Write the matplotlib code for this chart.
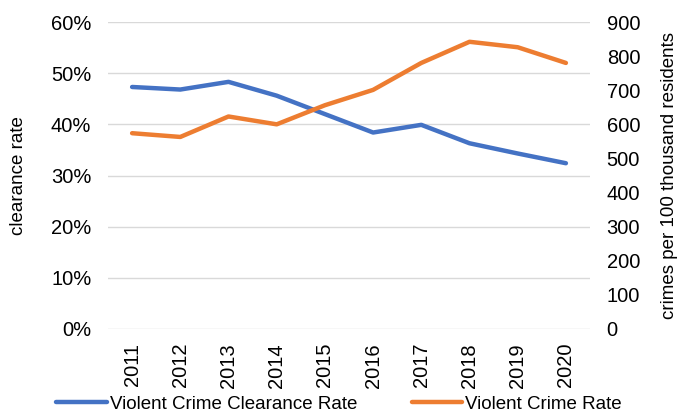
import matplotlib.pyplot as plt
from matplotlib.ticker import PercentFormatter

plt.rcParams['font.family'] = ['Liberation Sans', 'DejaVu Sans']

years = ['2011', '2012', '2013', '2014', '2015', '2016', '2017', '2018', '2019', '2020']
clearance = [47.3, 46.8, 48.3, 45.6, 42.0, 38.4, 39.9, 36.3, 34.3, 32.4]
crime_rate = [574, 563, 623, 600, 656, 701, 780, 842, 826, 780]

blue = '#4472C4'
orange = '#ED7D31'

fig = plt.figure(figsize=(6.78, 4.17), dpi=100)
ax = fig.add_axes([108 / 678, 1 - 329 / 417, 482 / 678, 307 / 417])
ax2 = ax.twinx()

x = range(len(years))
l1, = ax.plot(x, clearance, color=blue, lw=3.2, solid_capstyle='round', label='Violent Crime Clearance Rate')
l2, = ax2.plot(x, crime_rate, color=orange, lw=3.2, solid_capstyle='round', label='Violent Crime Rate')

ax.set_xlim(-0.5, len(years) - 0.5)
ax.set_ylim(0, 60)
ax2.set_ylim(0, 900)
ax.set_yticks(range(0, 61, 10))
ax2.set_yticks(range(0, 901, 100))
ax.yaxis.set_major_formatter(PercentFormatter(decimals=0))
ax.set_xticks(list(x))
ax.set_xticklabels(years, rotation=90)

ax.grid(axis='y', color='#d9d9d9', lw=1)
ax.set_axisbelow(True)
for a in (ax, ax2):
    for s in a.spines.values():
        s.set_visible(False)
    a.tick_params(length=0, labelsize=14.5, colors='#000000')
ax.tick_params(axis='y', pad=12)
ax2.tick_params(axis='y', pad=12)
ax.tick_params(axis='x', pad=10)

ax.set_ylabel('clearance rate', fontsize=13.5)
ax.yaxis.set_label_coords(-0.168, 0.5)
ax2.set_ylabel('crimes per 100 thousand residents', fontsize=13.5)
ax2.yaxis.set_label_coords(1.147, 0.5)

fig.legend(handles=[l1, l2], loc='lower center', bbox_to_anchor=(0.5, -0.03), ncol=2,
           frameon=False, fontsize=13.5, handlelength=2.7, handletextpad=0.15, columnspacing=2.9)

fig.savefig('out.png', dpi=100)
